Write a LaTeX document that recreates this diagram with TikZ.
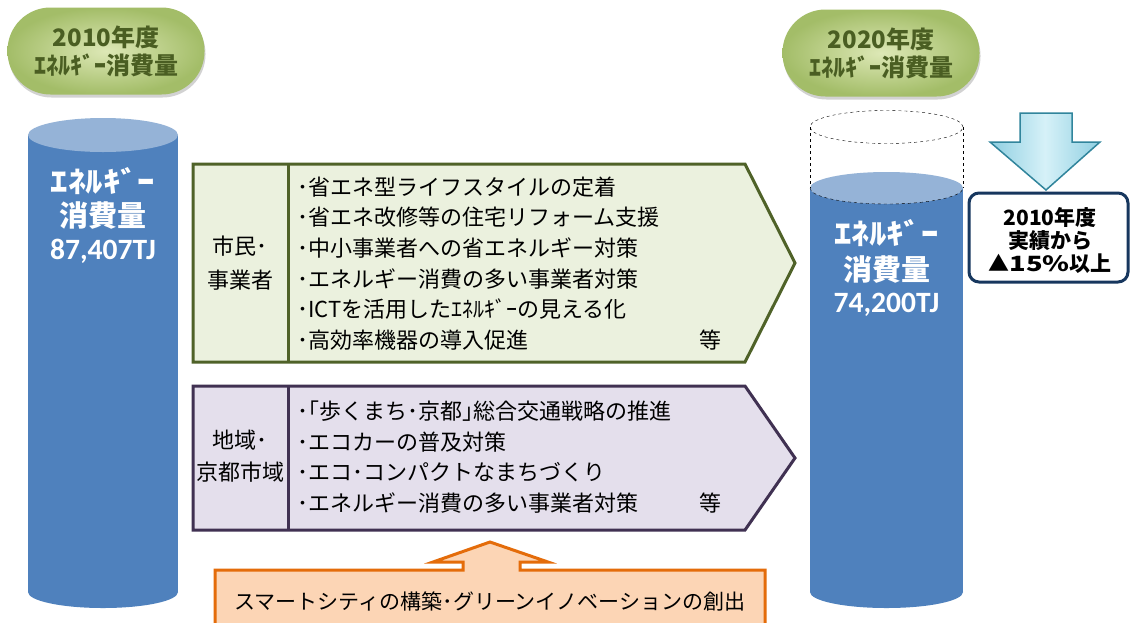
\documentclass[tikz,border=0pt]{standalone}
\usepackage{fontspec}
\setmainfont{Noto Sans CJK JP}
\newfontfamily\calfont{Carlito}
\usetikzlibrary{shadows}
\definecolor{cBlue}{HTML}{4F81BD}
\definecolor{cBlueLight}{HTML}{95B3D7}
\definecolor{cGreenLine}{HTML}{4F6228}
\definecolor{cGreenFill}{HTML}{EBF1DE}
\definecolor{cPurpleLine}{HTML}{403152}
\definecolor{cPurpleFill}{HTML}{E4DFEC}
\definecolor{cOrangeLine}{HTML}{E46C0A}
\definecolor{cOrangeFill}{HTML}{FCD5B5}
\definecolor{cNavy}{HTML}{17375E}
\definecolor{cPillIn}{HTML}{DDE8B6}
\definecolor{cPillOut}{HTML}{A3BD68}
\definecolor{cPillText}{HTML}{4A5E22}
\definecolor{cArrowMid}{HTML}{D6F1F8}
\definecolor{cArrowSide}{HTML}{8FCFE1}
\definecolor{cArrowLine}{HTML}{31859C}
\tikzset{
  pill/.style={rounded corners=43pt, minimum width=197pt, minimum height=87pt,
    inner sep=0pt, shading=radial, inner color=cPillIn, outer color=cPillOut,
    drop shadow={opacity=0.35, shadow xshift=1pt, shadow yshift=-3pt},
    align=center, text=cPillText, font=\bfseries\fontsize{24}{28}\selectfont},
  cyltxt/.style={text=white, inner sep=0pt, font=\bfseries\fontsize{29}{30}\selectfont},
  numtxt/.style={text=white, inner sep=0pt, font=\calfont\bfseries\fontsize{29.5}{30}\selectfont},
  itemtxt/.style={anchor=west, inner sep=0pt, align=left, font=\fontsize{22}{30.6}\selectfont},
  celltxt/.style={inner sep=0pt, align=center, font=\fontsize{22}{34}\selectfont},
  greenbox/.style={draw=cGreenLine, fill=cGreenFill, line width=3pt},
  purplebox/.style={draw=cPurpleLine, fill=cPurpleFill, line width=3pt},
}
\begin{document}
\begin{tikzpicture}[x=1pt,y=-1pt]
\useasboundingbox (0,0) rectangle (1131,622);
\clip (0,0) rectangle (1131,622);
\fill[white] (0,0) rectangle (1131,622);

% pills
\node[pill] (p1) at (106,51) {2010年度\\ｴﾈﾙｷﾞｰ消費量};
\node[pill] (p2) at (881,53) {2020年度\\ｴﾈﾙｷﾞｰ消費量};

% left cylinder
\fill[cBlue] (28,135) rectangle (178,592);
\fill[cBlue] (103,592) ellipse [x radius=75pt, y radius=16pt];
\fill[cBlueLight] (103,135) ellipse [x radius=75pt, y radius=17pt];
\node[cyltxt] (c1a) at (103,181) {\scalebox{1.2}[1]{ｴﾈﾙｷﾞｰ}};
\node[cyltxt] (c1b) at (103,216) {消費量};
\node[numtxt] (c1c) at (103,251) {87,407TJ};

% right cylinder
\fill[cBlue] (810,188) rectangle (963,592);
\fill[cBlue] (886.5,592) ellipse [x radius=76.5pt, y radius=16pt];
\fill[cBlueLight] (886.5,188) ellipse [x radius=76.5pt, y radius=16pt];
\draw[dashed, thin] (886.5,127) ellipse [x radius=76.5pt, y radius=16.5pt];
\draw[dashed, thin] (810,127) -- (810,188);
\draw[dashed, thin] (963,127) -- (963,188);
\draw[dashed, thin] (810,188) arc [start angle=180, end angle=360, x radius=76.5pt, y radius=16pt];
\node[cyltxt] (c2a) at (886.5,233) {\scalebox{1.2}[1]{ｴﾈﾙｷﾞｰ}};
\node[cyltxt] (c2b) at (886.5,270) {消費量};
\node[numtxt] (c2c) at (886.5,305) {74,200TJ};

% down arrow
\draw[cArrowLine, line width=1.5pt, line join=miter, left color=cArrowSide, right color=cArrowSide, middle color=cArrowMid]
  (1020,113) -- (1072,113) -- (1072,142) -- (1100,142) -- (1046,190) -- (990,142) -- (1020,142) -- cycle;

% result box
\draw[cNavy, line width=3pt, rounded corners=10pt, fill=white] (969,193) rectangle (1128,282);
\node[inner sep=0pt, align=center, font=\bfseries\fontsize{21}{23}\selectfont] (res) at (1050,240) {2010年度\\実績から\\▲\scalebox{1.3}[1]{15\%}以上};

% green arrow box
\path[greenbox] (193,164) -- (745,164) -- (795,263) -- (745,362) -- (193,362) -- cycle;
\draw[cGreenLine, line width=3pt] (288,164) -- (288,362);
\node[celltxt] (g0) at (240,263) {市民･\\事業者};
\node[itemtxt] (g1) at (297,263.5) {･省エネ型ライフスタイルの定着\\･省エネ改修等の住宅リフォーム支援\\･中小事業者への省エネルギー対策\\･エネルギー消費の多い事業者対策\\･ICTを活用したｴﾈﾙｷﾞｰの見える化\\･高効率機器の導入促進};
\node[inner sep=0pt, font=\fontsize{22}{25}\selectfont] (g2) at (710,340) {等};

% purple arrow box
\path[purplebox] (193,386) -- (745,386) -- (795,458) -- (745,530) -- (193,530) -- cycle;
\draw[cPurpleLine, line width=3pt] (288,386) -- (288,530);
\node[celltxt, font=\fontsize{22}{32}\selectfont] (r0) at (240,456) {地域･\\京都市域};
\node[itemtxt] (r1) at (297,457) {･｢歩くまち･京都｣総合交通戦略の推進\\･エコカーの普及対策\\･エコ･コンパクトなまちづくり\\･エネルギー消費の多い事業者対策};
\node[inner sep=0pt, font=\fontsize{22}{25}\selectfont] (r2) at (710,503) {等};

% orange callout
\path[draw=cOrangeLine, fill=cOrangeFill, line width=3pt, line join=miter]
  (215,570) -- (463,570) -- (463,562) -- (433,562) -- (490,542) -- (548,562) -- (520,562) -- (520,570)
  -- (765,570) -- (765,640) -- (215,640) -- cycle;
\node[inner sep=0pt, font=\fontsize{21}{25}\selectfont] (o1) at (490,601) {スマートシティの構築･グリーンイノベーションの創出};
\end{tikzpicture}
\end{document}
